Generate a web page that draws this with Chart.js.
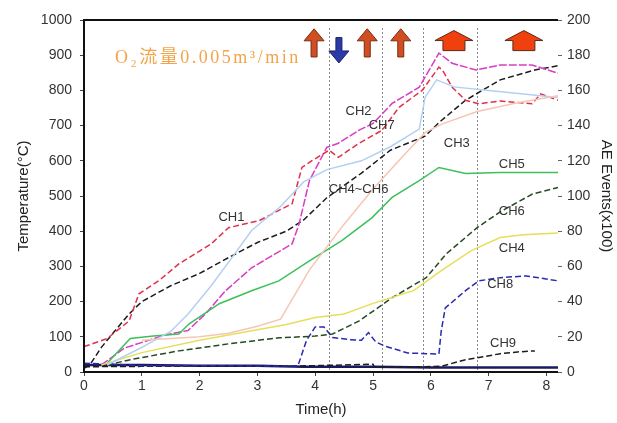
<!DOCTYPE html>
<html>
<head>
<meta charset="utf-8">
<script src="https://cdn.jsdelivr.net/npm/chart.js@4.4.0/dist/chart.umd.min.js"></script>
<style>
  html, body { margin: 0; padding: 0; background: #fff; }
  #wrap { width: 617px; height: 423px; }
</style>
</head>
<body>
<div id="wrap"><canvas id="tempChart" width="617" height="423"></canvas></div>
<script>
// Temperature series, [time (h), temperature (degC)]
const ch1 = [[0,10],[0.1,20],[0.3,70],[0.5,110],[0.78,165],[1.0,200],[1.5,245],[2.0,280],[2.5,325],[3.0,368],[3.5,400],[3.8,432],[4.2,495],[4.8,565],[5.3,630],[5.9,670],[6.15,710],[6.6,772],[7.2,830],[7.8,858],[8.2,870]];
const ch2 = [[0.3,20],[0.7,68],[1.4,105],[1.8,118],[2.1,165],[2.45,231],[2.9,296],[3.6,364],[3.72,420],[3.9,544],[4.2,638],[4.4,650],[4.76,687],[5.0,706],[5.33,763],[5.8,809],[6.14,906],[6.37,877],[6.78,858],[7.2,872],[7.75,872],[8.2,849]];
const ch7 = [[0,72],[0.4,95],[0.78,145],[0.95,222],[1.3,260],[1.64,307],[2.2,364],[2.5,410],[3.03,430],[3.37,459],[3.6,478],[3.77,581],[3.95,601],[4.24,630],[4.4,610],[4.76,650],[5.16,687],[5.45,752],[5.85,800],[6.14,866],[6.2,858],[6.37,809],[6.6,772],[6.83,762],[7.2,770],[7.75,762],[7.9,790],[8.2,772]];
const ch3 = [[0.4,20],[1.0,70],[1.5,115],[1.8,165],[2.2,245],[2.56,325],[2.9,402],[3.4,470],[3.8,540],[4.2,575],[4.8,600],[5.3,640],[5.8,690],[5.9,780],[6.1,830],[6.4,810],[7.0,800],[7.6,790],[8.2,780]];
const chPeach = [[1.0,90],[2.0,100],[2.5,110],[3.0,130],[3.4,150],[3.9,290],[4.5,420],[5.0,520],[5.5,610],[5.9,680],[6.2,705],[6.8,740],[7.5,765],[8.2,785]];
const ch5 = [[0.4,25],[0.8,95],[1.2,102],[1.64,108],[1.82,137],[2.34,194],[2.9,231],[3.37,259],[3.9,316],[4.46,373],[4.98,438],[5.33,496],[5.8,544],[6.14,581],[6.6,564],[7.2,567],[8.2,567]];
const ch6 = [[0.4,20],[0.8,35],[1.64,60],[2.5,80],[3.37,97],[4.0,102],[4.3,108],[4.76,145],[5.33,211],[5.92,268],[6.27,336],[6.8,410],[7.2,455],[7.75,505],[8.2,524]];
const ch4 = [[0.3,20],[1.0,55],[2.0,90],[3.0,120],[3.5,135],[4.0,155],[4.5,165],[5.0,195],[5.7,231],[6.2,290],[6.7,345],[7.2,382],[7.6,390],[8.2,395]];
const ch8 = [[0,25],[0.5,22],[1.0,18],[2.0,18],[3.0,17],[3.7,17],[3.85,90],[4.0,128],[4.15,128],[4.3,98],[4.6,92],[4.8,90],[4.92,112],[5.05,85],[5.2,74],[5.6,54],[6.14,51],[6.18,117],[6.25,182],[6.6,231],[6.83,259],[7.2,268],[7.65,273],[8.2,259]];
const ch9 = [[0,15],[1.0,16],[2.0,17],[3.0,17],[3.7,17],[4.5,20],[5.0,22],[5.02,15],[5.9,15],[6.2,17],[6.6,35],[6.8,40],[7.2,52],[7.5,57],[7.8,60]];
// AE events (right axis, x100)
const aeEvents = [[0,4],[1,4],[2,3.5],[3,3.5],[3.8,3],[5,3],[6,2.5],[7,2.5],[8.2,2.5]];

// tick labels
const tempTicks = [0,100,200,300,400,500,600,700,800,900,1000];
const aeTicks = [0,20,40,60,80,100,120,140,160,180,200];
const timeTicks = [0,1,2,3,4,5,6,7,8];

// events: vertical dotted lines and arrows (time in h)
const eventLines = [4.24, 5.16, 5.87, 6.8];
const upArrows = [3.98, 4.9, 5.48];
const downArrows = [4.41];
const bigArrows = [6.4, 7.61];

// channel labels [text, time, temperature]
const chLabels = [
    ['CH1', 2.55, 440],
    ['CH2', 4.75, 740],
    ['CH7', 5.15, 700],
    ['CH3', 6.45, 650],
    ['CH4~CH6', 4.75, 518],
    ['CH5', 7.4, 590],
    ['CH6', 7.4, 455],
    ['CH4', 7.4, 350],
    ['CH8', 7.2, 250],
    ['CH9', 7.25, 82]
];

function pts(arr) {
    return arr.map(p => ({ x: p[0], y: p[1] }));
}

function series(label, arr, color, width, dash, axis) {
    return {
        label: label,
        data: pts(arr),
        borderColor: color,
        borderWidth: width,
        borderDash: dash,
        pointRadius: 0,
        tension: 0,
        yAxisID: axis || 'y'
    };
}

// draws the frame, event lines, arrows, note and labels
const decorPlugin = {
    id: 'decor',
    beforeDatasetsDraw(chart) {
        const ctx = chart.ctx;
        const a = chart.chartArea;
        const xs = chart.scales.x;
        ctx.save();
        ctx.strokeStyle = '#8a8a8a';
        ctx.lineWidth = 1;
        ctx.setLineDash([2, 2]);
        eventLines.forEach(t => {
            const px = Math.round(xs.getPixelForValue(t)) + 0.5;
            ctx.beginPath();
            ctx.moveTo(px, a.top + 8);
            ctx.lineTo(px, a.bottom);
            ctx.stroke();
        });
        ctx.restore();
    },
    afterDatasetsDraw(chart) {
        const ctx = chart.ctx;
        const a = chart.chartArea;
        const xs = chart.scales.x;
        const ys = chart.scales.y;
        ctx.save();

        // frame
        ctx.strokeStyle = '#111';
        ctx.lineWidth = 2;
        ctx.beginPath();
        ctx.moveTo(a.right, a.top);
        ctx.lineTo(a.left, a.top);
        ctx.lineTo(a.left, a.bottom);
        ctx.lineTo(a.right, a.bottom);
        ctx.stroke();

        // small up arrows
        upArrows.forEach(t => {
            const cx = xs.getPixelForValue(t);
            const top = ys.getPixelForValue(975), bot = ys.getPixelForValue(895);
            ctx.fillStyle = '#cf4f22';
            ctx.strokeStyle = '#7a2a12';
            ctx.lineWidth = 1;
            ctx.beginPath();
            ctx.moveTo(cx, top);
            ctx.lineTo(cx + 10, top + 12);
            ctx.lineTo(cx + 3, top + 12);
            ctx.lineTo(cx + 3, bot);
            ctx.lineTo(cx - 3, bot);
            ctx.lineTo(cx - 3, top + 12);
            ctx.lineTo(cx - 10, top + 12);
            ctx.closePath();
            ctx.fill();
            ctx.stroke();
        });

        // down arrow
        downArrows.forEach(t => {
            const cx = xs.getPixelForValue(t);
            const top = ys.getPixelForValue(950), bot = ys.getPixelForValue(878);
            ctx.fillStyle = '#2a3aa8';
            ctx.strokeStyle = '#1a2068';
            ctx.lineWidth = 1;
            ctx.beginPath();
            ctx.moveTo(cx - 3, top);
            ctx.lineTo(cx + 3, top);
            ctx.lineTo(cx + 3, bot - 12);
            ctx.lineTo(cx + 10, bot - 12);
            ctx.lineTo(cx, bot);
            ctx.lineTo(cx - 10, bot - 12);
            ctx.lineTo(cx - 3, bot - 12);
            ctx.closePath();
            ctx.fill();
            ctx.stroke();
        });

        // big arrows
        bigArrows.forEach(t => {
            const cx = xs.getPixelForValue(t);
            const top = ys.getPixelForValue(970), bot = ys.getPixelForValue(913);
            ctx.fillStyle = '#f0400e';
            ctx.strokeStyle = '#5a2a1a';
            ctx.lineWidth = 1;
            ctx.beginPath();
            ctx.moveTo(cx, top);
            ctx.lineTo(cx + 19, top + 10);
            ctx.lineTo(cx + 11, top + 10);
            ctx.lineTo(cx + 11, bot);
            ctx.lineTo(cx - 11, bot);
            ctx.lineTo(cx - 11, top + 10);
            ctx.lineTo(cx - 19, top + 10);
            ctx.closePath();
            ctx.fill();
            ctx.stroke();
        });

        // note
        ctx.fillStyle = '#f2a448';
        ctx.font = '18px "Liberation Serif", "Noto Sans CJK JP", serif';
        ctx.textBaseline = 'alphabetic';
        ctx.letterSpacing = '2.5px';
        ctx.fillText('O\u2082流量0.005m\u00b3/min', a.left + 31, ys.getPixelForValue(877));
        ctx.letterSpacing = '0px';

        // channel labels
        ctx.fillStyle = '#333';
        ctx.font = '13px "Liberation Sans", Arial, sans-serif';
        ctx.textAlign = 'center';
        ctx.textBaseline = 'middle';
        chLabels.forEach(l => {
            ctx.fillText(l[0], xs.getPixelForValue(l[1]), ys.getPixelForValue(l[2]));
        });
        ctx.restore();
    }
};

window.addEventListener('DOMContentLoaded', () => {
    const ctx = document.getElementById('tempChart').getContext('2d');
    const tickFont = { family: '"Liberation Sans", Arial, sans-serif', size: 14 };
    const titleFont = { family: '"Liberation Sans", Arial, sans-serif', size: 15 };
    new Chart(ctx, {
        type: 'line',
        data: {
            datasets: [
                series('Peach', chPeach, '#f6c6b4', 1.5, []),
                series('CH3', ch3, '#b4cff2', 1.5, []),
                series('CH4', ch4, '#e6df5a', 1.5, []),
                series('CH5', ch5, '#3cc05a', 1.5, []),
                series('CH6', ch6, '#244a24', 1.5, [6, 3]),
                series('CH7', ch7, '#e0304a', 1.5, [6, 3]),
                series('CH2', ch2, '#d83cc4', 1.5, [8, 2]),
                series('CH1', ch1, '#1c1c1c', 1.5, [6, 3]),
                series('CH8', ch8, '#2a2ab0', 1.5, [6, 3]),
                series('CH9', ch9, '#1c1c1c', 1.5, [6, 3]),
                series('AE', aeEvents, '#1a1a60', 2.5, [], 'y2')
            ]
        },
        options: {
            responsive: false,
            animation: false,
            devicePixelRatio: 1,
            layout: { padding: { top: 20, left: 0, right: 0, bottom: 0 } },
            plugins: {
                legend: { display: false },
                tooltip: { enabled: false }
            },
            scales: {
                x: {
                    type: 'linear',
                    min: 0,
                    max: 8.2,
                    afterBuildTicks: s => { s.ticks = timeTicks.map(v => ({ value: v })); },
                    afterFit: s => { s.height = 51; },
                    grid: { display: true, drawOnChartArea: false, tickLength: 4, color: '#444' },
                    border: { display: false },
                    ticks: { color: '#333', font: tickFont, padding: 2, autoSkip: false, callback: v => String(v) },
                    title: { display: true, text: 'Time(h)', color: '#222', font: titleFont, padding: { top: 4 } }
                },
                y: {
                    position: 'left',
                    min: 0,
                    max: 1000,
                    afterBuildTicks: s => { s.ticks = tempTicks.map(v => ({ value: v })); },
                    afterFit: s => { s.width = 84; },
                    grid: { display: true, drawOnChartArea: false, tickLength: 4, color: '#444' },
                    border: { display: false },
                    ticks: { color: '#333', font: tickFont, padding: 8, autoSkip: false, callback: v => String(v) },
                    title: { display: true, text: 'Temperature(\u00b0C)', color: '#222', font: titleFont, padding: { top: 15, bottom: 0 } }
                },
                y2: {
                    position: 'right',
                    min: 0,
                    max: 200,
                    afterBuildTicks: s => { s.ticks = aeTicks.map(v => ({ value: v })); },
                    afterFit: s => { s.width = 59; },
                    grid: { display: true, drawOnChartArea: false, tickLength: 4, color: '#666' },
                    border: { display: false },
                    ticks: { color: '#333', font: tickFont, padding: 5, autoSkip: false, callback: v => String(v) },
                    title: { display: true, text: 'AE Events(x100)', color: '#222', font: titleFont, padding: { top: 2 } }
                }
            }
        },
        plugins: [decorPlugin]
    });
});
</script>
</body>
</html>
